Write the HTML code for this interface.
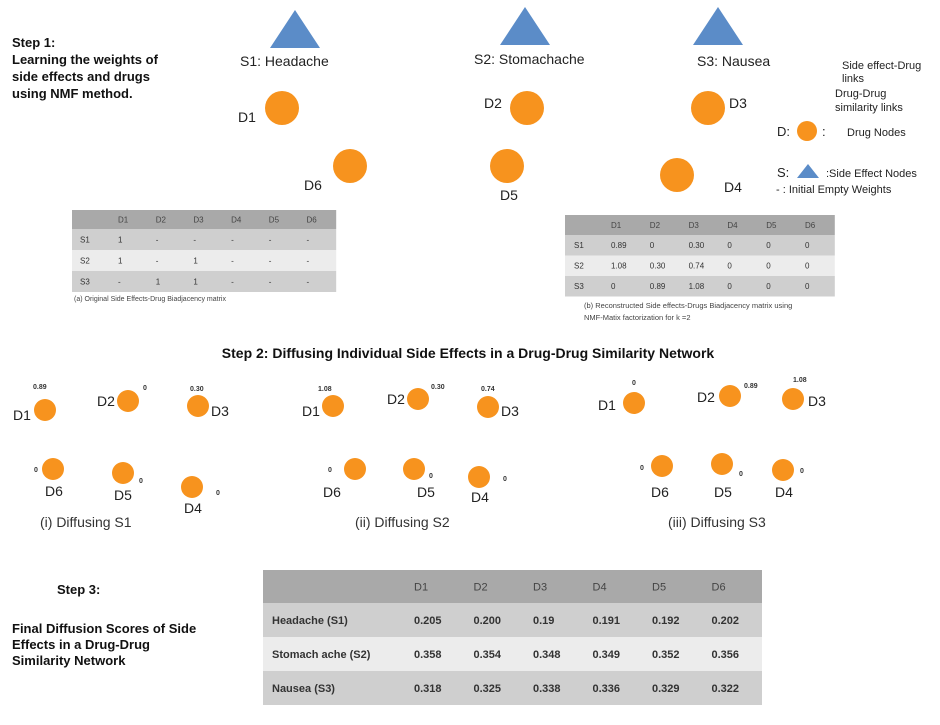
<!DOCTYPE html>
<html><head><meta charset="utf-8"><style>
body{margin:0;background:#fff;width:940px;height:720px;overflow:hidden;font-family:"Liberation Sans",sans-serif}
svg text{font-family:"Liberation Sans",sans-serif}
</style></head><body>
<svg id="s" width="940" height="720" viewBox="0 0 940 720">
<g font-weight="bold" font-size="13" fill="#111">
<text x="12" y="47">Step 1:</text>
<text x="12" y="64">Learning the weights of</text>
<text x="12" y="81">side effects and drugs</text>
<text x="12" y="98">using NMF method.</text>
</g>
<g id="topnet"></g>
<g font-size="11" fill="#222">
<text x="842" y="69">Side effect-Drug</text>
<text x="842" y="82">links</text>
<text x="835" y="97">Drug-Drug</text>
<text x="835" y="111">similarity links</text>
<text x="777" y="136" font-size="13">D:</text>
<circle cx="807" cy="131" r="10" fill="#f7931e"/>
<text x="822" y="136" font-size="13">:</text>
<text x="847" y="136">Drug Nodes</text>
<text x="777" y="177" font-size="13">S:</text>
<polygon points="797,178 819,178 808,164" fill="#5b8cc8"/>
<text x="826" y="177">:Side Effect Nodes</text>
<text x="776" y="193">- : Initial Empty Weights</text>
</g>
<g id="ta"></g>
<text x="74" y="301" font-size="7" fill="#444">(a) Original Side Effects-Drug Biadjacency matrix</text>
<g id="tb"></g>
<text x="584" y="308" font-size="7.5" fill="#444">(b) Reconstructed Side effects-Drugs Biadjacency matrix using</text>
<text x="584" y="320" font-size="7.5" fill="#444">NMF-Matix factorization for k =2</text>
<text x="468" y="358" font-size="14" font-weight="bold" text-anchor="middle" fill="#111">Step 2: Diffusing Individual Side Effects in a Drug-Drug Similarity Network</text>
<g id="diff"></g>
<text x="57" y="594" font-size="13" font-weight="bold" fill="#111">Step 3:</text>
<g font-size="13" font-weight="bold" fill="#111">
<text x="12" y="633">Final Diffusion Scores of  Side</text>
<text x="12" y="649">Effects in a Drug-Drug</text>
<text x="12" y="665">Similarity Network</text>
</g>
<g id="tc"></g>
</svg>
<script>
const drugs=["D1","D2","D3","D4","D5","D6"];
const sides=["S1","S2","S3"];
const origVals=[["1","-","-","-","-","-"],["1","-","1","-","-","-"],["-","1","1","-","-","-"]];
const recVals=[["0.89","0","0.30","0","0","0"],["1.08","0.30","0.74","0","0","0"],["0","0.89","1.08","0","0","0"]];
const finalRows=["Headache (S1)","Stomach ache (S2)","Nausea (S3)"];
const finalVals=[["0.205","0.200","0.19","0.191","0.192","0.202"],["0.358","0.354","0.348","0.349","0.352","0.356"],["0.318","0.325","0.338","0.336","0.329","0.322"]];
const NS="http://www.w3.org/2000/svg";
function mk(p,t,a,txt){const e=document.createElementNS(NS,t);for(const k in a)e.setAttribute(k,a[k]);if(txt!==undefined)e.textContent=txt;p.appendChild(e);return e;}
function table(g,x,y,lw,cw,hh,rh,rows,vals,fs,bold,pad){
  const W=lw+cw*6;
  const bgs=["#a9a9a9","#cfcfcf","#ececec","#cfcfcf"];
  for(let r=0;r<4;r++){const h=r?rh:hh;const yy=r?y+hh+(r-1)*rh:y;
    const rc=mk(g,'rect',{x:x,y:yy,width:W,height:h,fill:bgs[r]});
    
    
  }
  drugs.forEach((d,i)=>{const t=mk(g,'text',{x:x+lw+cw*i+pad,y:y+hh/2+fs*0.35,'font-size':fs,fill:'#444'},d);
    
    });
  rows.forEach((s,r)=>{const cy=y+hh+r*rh+rh/2+fs*0.35;
    const t=mk(g,'text',{x:x+pad,y:cy,'font-size':fs,fill:'#333','font-weight':bold?'bold':'normal'},s);
    
    
    vals[r].forEach((v,i)=>{const c=mk(g,'text',{x:x+lw+cw*i+pad,y:cy,'font-size':fs,fill:'#333','font-weight':bold?'bold':'normal'},v);
      
      });
  });
}
table(document.getElementById('ta'),72,210,38,37.7,19,21,sides,origVals,8,false,8);
table(document.getElementById('tb'),565,215,37,38.8,20,20.5,sides,recVals,8,false,9);
table(document.getElementById('tc'),263,570,142,59.5,33,34,finalRows,finalVals,11,true,9);
const topG=document.getElementById('topnet');
[[295,30,"S1: Headache",240,66],[525,27,"S2: Stomachache",474,64],[718,27,"S3: Nausea",697,66]].forEach(a=>{
  const p=mk(topG,'polygon',{points:`${a[0]-25},${a[1]+18} ${a[0]+25},${a[1]+18} ${a[0]},${a[1]-20}`,fill:'#5b8cc8'});
  
  
  const t=mk(topG,'text',{x:a[3],y:a[4],'font-size':14,fill:'#222'},a[2]);
  
  
});
[[282,108,"D1",238,122],[527,108,"D2",484,108],[708,108,"D3",729,108],[350,166,"D6",304,190],[507,166,"D5",500,200],[677,175,"D4",724,192]].forEach(a=>{
  const c=mk(topG,'circle',{cx:a[0],cy:a[1],r:17,fill:'#f7931e'});
  
  
  const t=mk(topG,'text',{x:a[3],y:a[4],'font-size':14,fill:'#222'},a[2]);
  
  
});
const diff=document.getElementById('diff');
const panels=[
 {cap:"(i) Diffusing S1",cx:40,v:["0.89","0","0.30","0","0","0"],
  n:[[45,410,13,420,33,389],[128,401,97,406,143,390],[198,406,211,416,190,391],[192,487,184,513,216,495],[123,473,114,500,139,483],[53,469,45,496,34,472]]},
 {cap:"(ii) Diffusing S2",cx:355,v:["1.08","0.30","0.74","0","0","0"],
  n:[[333,406,302,416,318,391],[418,399,387,404,431,389],[488,407,501,416,481,391],[479,477,471,502,503,481],[414,469,417,497,429,478],[355,469,323,497,328,472]]},
 {cap:"(iii) Diffusing S3",cx:668,v:["0","0.89","1.08","0","0","0"],
  n:[[634,403,598,410,632,385],[730,396,697,402,744,388],[793,399,808,406,793,382],[783,470,775,497,800,473],[722,464,714,497,739,476],[662,466,651,497,640,470]]}
];
panels.forEach(p=>{
  p.n.forEach((a,i)=>{
    const c=mk(diff,'circle',{cx:a[0],cy:a[1],r:11,fill:'#f7931e'});
    
    
    const l=mk(diff,'text',{x:a[2],y:a[3],'font-size':14,fill:'#222'},drugs[i]);
    
    
    const v=mk(diff,'text',{x:a[4],y:a[5],'font-size':7,'font-weight':'bold',fill:'#333'},p.v[i]);
    
    
  });
  const t=mk(diff,'text',{x:p.cx,y:527,'font-size':14,fill:'#333'},p.cap);
  
  
});
</script>
</body></html>
